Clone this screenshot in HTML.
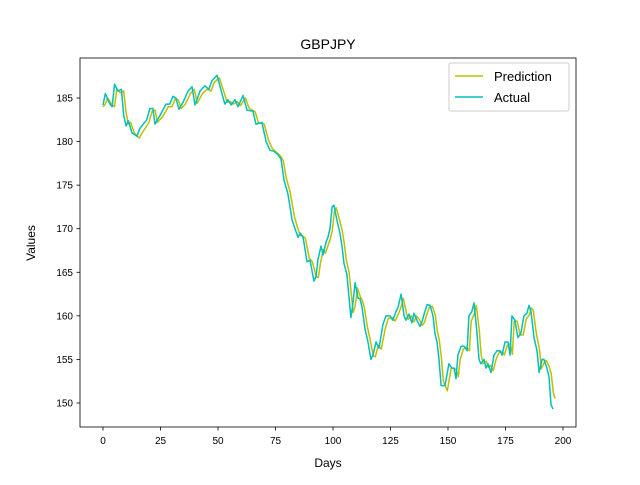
<!DOCTYPE html>
<html><head><meta charset="utf-8"><style>
body{margin:0;background:#fff;}
svg text{font-family:"Liberation Sans","DejaVu Sans",sans-serif;}
</style></head><body>
<svg id="chart" width="640" height="480" viewBox="0 0 640 480">
<rect x="0" y="0" width="640" height="480" fill="#fff"/>
<text x="328" y="49" text-anchor="middle" font-size="14">GBPJPY</text>
<g id="grid"></g>
<g id="series"></g>
<rect x="80" y="58" width="496" height="369" fill="none" stroke="#000" stroke-width="0.8"/>
<text x="328" y="467" text-anchor="middle" font-size="12">Days</text>
<text transform="translate(35,243) rotate(-90)" text-anchor="middle" font-size="12">Values</text>
<g>
<rect x="449" y="63" width="120" height="48" rx="2" fill="#fff" fill-opacity="0.8" stroke="#ccc"/>
<line x1="455" y1="76" x2="483" y2="76" stroke="#bfbf00" stroke-width="1.5"/>
<text x="494" y="81" font-size="13">Prediction</text>
<line x1="455" y1="97" x2="483" y2="97" stroke="#00bfbf" stroke-width="1.5"/>
<text x="494" y="102" font-size="13">Actual</text>
</g>
</svg>
<script>
const xTicks=[0,25,50,75,100,125,150,175,200];
const yTicks=[150,155,160,165,170,175,180,185];
const actualDays=[0,1,3,4,5,6.5,8,9,10,11,12.6,14.8,16,19,20.4,21.7,22.6,24.8,27.4,29,30.4,31.7,33,34.8,37,38.7,40,42.2,44.3,46,47.4,49.6,51.7,53,54.3,55.7,57.4,58.7,60.9,62.6,65.2,66.5,69.1,70.9,72.6,74.3,76,77.4,78.7,80.4,82.2,83.5,84.8,85.7,87,88.7,90,91.7,92.6,93.5,94.8,95.7,97,97.8,98.7,99.6,100.4,101.7,103,103.9,104.8,106,107,107.8,108.7,109.6,110.9,111.7,112.6,113.9,115.2,116.5,117.4,118.7,120,121.7,123,124.8,126,127.4,128.3,129.6,130.9,131.7,133,134.3,135.2,136.5,137.8,138.7,139.6,140.9,142.2,143.5,144.3,145.2,146.1,147,148.7,150.4,151.7,152.6,153.5,154.3,155.7,157,158.3,159.1,160.4,161.3,162.6,163.5,164.3,165.7,166.5,167.4,168.7,170,171.3,172.6,173.5,174.8,176.1,177,177.8,179.1,180.4,181.7,183,184.3,185.2,186.1,187.4,188.7,189.6,190.9,191.7,193,193.9,194.8,195.7];
const actualValues=[184.2,185.5,184.3,184,186.6,185.8,186,183,181.8,182.4,181,180.6,181.5,182.5,183.8,183.8,182,183,184.3,184.3,185.2,185,183.7,184.5,185.8,186.3,184.2,185.8,186.4,186,187,187.6,185.5,184.3,184.8,184.2,184.8,184,185.3,183.6,183.5,182,182.2,180,179,178.9,178.5,178,175.6,174,171,170,169,169.5,169,166.2,166.4,164,164.5,166.5,168,167,168.5,169,170,172.5,172.7,171,169.5,168,166,164.8,162,159.8,161.5,163.8,162,162,161,158.5,157,155,155.5,157,156.3,159,160,160,159.5,160.5,161,162.5,160,159.5,160.2,159.2,160.3,159.5,158.8,159.3,160.2,161.3,161.2,160,158,157,155,152,152,154.5,154,154,152.8,155.5,156.5,156.5,156,160,160.5,161.5,158,155,154.5,155,154,154.5,153.5,155.5,156,156,155.5,157,157,155.5,160,159.5,157.5,158,160,160.3,161.2,160.5,157.5,156,153.5,155,155,154,153,149.8,149.3];
const predDays=[0,1,2,4,5,6,7.5,9,10,11,12,13.6,15.8,17,20,21.4,22.7,23.6,25.8,28.4,30,31.4,32.7,34,35.8,38,39.7,41,43.2,45.3,47,48.4,50.6,52.7,54,55.3,56.7,58.4,59.7,61.9,63.6,66.2,67.5,70.1,71.9,73.6,75.3,77,78.4,79.7,81.4,83.2,84.5,85.8,86.7,88,89.7,91,92.7,93.6,94.5,95.8,96.7,98,98.8,99.7,100.6,101.4,102.7,104,104.9,105.8,107,108,108.8,109.7,110.6,111.9,112.7,113.6,114.9,116.2,117.5,118.4,119.7,121,122.7,124,125.8,127,128.4,129.3,130.6,131.9,132.7,134,135.3,136.2,137.5,138.8,139.7,140.6,141.9,143.2,144.5,145.3,146.2,147.1,148,149.7,151.4,152.7,153.6,154.5,155.3,156.7,158,159.3,160.1,161.4,162.3,163.6,164.5,165.3,166.7,167.5,168.4,169.7,171,172.3,173.6,174.5,175.8,177.1,178,178.8,180.1,181.4,182.7,184,185.3,186.2,187.1,188.4,189.7,190.6,191.9,192.7,194,194.9,195.8,196.5];
const predValues=[184,184.3,185,184.2,184,186,185.6,185.8,183.4,182,182.2,181,180.4,181,182.2,183.5,183.6,182.2,182.8,184,184,184.9,184.8,183.8,184.3,185.5,186,184.4,185.5,186,185.8,186.8,187.3,185.6,184.5,184.6,184.3,184.6,184.1,185,183.8,183.4,182.2,182,180.2,179.2,178.8,178.4,177.8,175.8,174.2,171.4,170.2,169.2,169.2,168.9,166.6,166.2,164.5,164.4,166,167.6,167.2,168.2,168.8,169.8,172,172.4,171.2,169.8,168.3,166.4,165,162.4,160.4,161.2,163.2,162.2,161.8,161,158.8,157.2,155.4,155.3,156.6,156.2,158.5,159.7,159.8,159.4,160.2,160.8,162,160.3,159.6,160,159.3,160,159.6,158.9,159.2,160,161,161.1,160.1,158.3,157.2,155.3,152.5,151.4,154,154,153.8,153,155,156.2,156.4,156,159.4,160.2,161.2,158.3,155.4,154.5,154.8,154.1,154.3,153.7,155.1,155.8,155.9,155.5,156.6,156.8,155.6,159.4,159.4,157.8,157.8,159.6,160.1,160.9,160.6,158,156.3,153.9,154.7,154.9,154.2,153.3,151.2,150.5];
const X=d=>103+2.3*d;
const Y=v=>98+(185-v)*8.714;
const NS='http://www.w3.org/2000/svg';
const g=document.getElementById('grid');
xTicks.forEach(t=>{
  const l=document.createElementNS(NS,'line');
  l.setAttribute('x1',X(t));l.setAttribute('x2',X(t));l.setAttribute('y1',427);l.setAttribute('y2',430.5);
  l.setAttribute('stroke','#000');l.setAttribute('stroke-width','0.8');
  
  
  g.appendChild(l);
  const tx=document.createElementNS(NS,'text');
  tx.setAttribute('x',X(t));tx.setAttribute('y',444);tx.setAttribute('text-anchor','middle');tx.setAttribute('font-size','10');
  tx.textContent=t;
  
  
  g.appendChild(tx);
});
yTicks.forEach(t=>{
  const l=document.createElementNS(NS,'line');
  l.setAttribute('x1',76.5);l.setAttribute('x2',80);l.setAttribute('y1',Y(t));l.setAttribute('y2',Y(t));
  l.setAttribute('stroke','#000');l.setAttribute('stroke-width','0.8');
  
  
  g.appendChild(l);
  const tx=document.createElementNS(NS,'text');
  tx.setAttribute('x',73);tx.setAttribute('y',Y(t)+3.5);tx.setAttribute('text-anchor','end');tx.setAttribute('font-size','10');
  tx.textContent=t;
  
  
  g.appendChild(tx);
});
const s=document.getElementById('series');
function line(ds,vs,color,name){
  const p=document.createElementNS(NS,'polyline');
  p.setAttribute('points',ds.map((d,i)=>X(d).toFixed(1)+','+Y(vs[i]).toFixed(1)).join(' '));
  p.setAttribute('fill','none');p.setAttribute('stroke',color);p.setAttribute('stroke-width','1.5');
  p.setAttribute('stroke-linejoin','round');
  
  
  s.appendChild(p);
}
line(predDays,predValues,'#bfbf00','prediction-line');
line(actualDays,actualValues,'#00bfbf','actual-line');
</script>
</body></html>
